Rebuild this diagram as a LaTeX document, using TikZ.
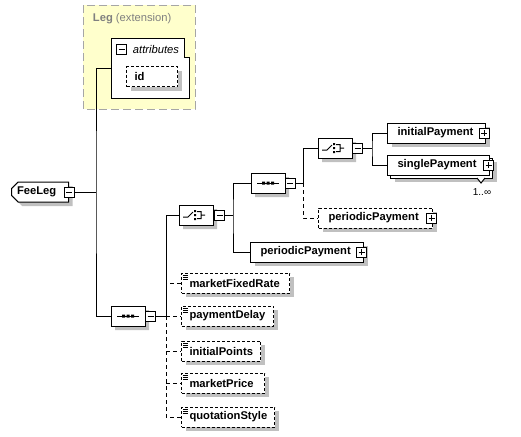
\documentclass[tikz,border=0pt]{standalone}
\usepackage{fontspec}
\setmainfont{Liberation Sans}
\usetikzlibrary{shapes.misc,shadows,calc}
\definecolor{legfill}{RGB}{255,255,204}
\definecolor{shadowgray}{RGB}{192,192,192}
\tikzstyle{boxfont}=[font=\bfseries\fontsize{8.4pt}{10pt}\selectfont]
\tikzstyle{shade}=[drop shadow={shadow xshift=3pt,shadow yshift=-3pt,fill=shadowgray,opacity=1}]
\tikzstyle{elembox}=[draw,fill=white,anchor=west,minimum height=15pt,inner xsep=7.5pt,inner ysep=0pt,align=left,boxfont]
\tikzstyle{elem}=[elembox,shade]
\tikzstyle{optional}=[dash pattern=on 2.25pt off 1.5pt]
\tikzstyle{simple}=[elem,optional,inner xsep=6pt]
\tikzstyle{compositor}=[draw,fill=white,chamfered rectangle,chamfered rectangle xsep=3.5pt,chamfered rectangle ysep=3.5pt,minimum width=25.5pt,minimum height=15pt,inner sep=0pt,shade]
\tikzstyle{collapsebox}=[draw,fill=white,minimum size=7.5pt,inner sep=0pt,path picture={\draw ([xshift=1.5pt]path picture bounding box.west) -- ([xshift=-1.5pt]path picture bounding box.east);}]
\tikzstyle{expandbox}=[draw,fill=white,minimum size=7.5pt,inner sep=0pt,path picture={\draw ([xshift=1.5pt]path picture bounding box.west) -- ([xshift=-1.5pt]path picture bounding box.east) ([yshift=1.5pt]path picture bounding box.south) -- ([yshift=-1.5pt]path picture bounding box.north);}]
\tikzstyle{link}=[line width=0.75pt]
\tikzstyle{optlink}=[link,dash pattern=on 3pt off 2.25pt]
\begin{document}
\begin{tikzpicture}[x=0.75pt,y=-0.75pt,line width=0.75pt]
\useasboundingbox (0,0) rectangle (521,436);
\draw[draw=gray!70,dash pattern=on 6pt off 3pt,fill=legfill] (83,5) rectangle (195,109);
\node[anchor=west,text=gray,font=\fontsize{8.4pt}{10pt}\selectfont] (legTitle) at (88,19) {\textbf{Leg} (extension)};
\draw[fill=white] (111,38) -- (184,38) -- (184,57) -- (189,57) -- (189,98) -- (111,98) -- cycle;
\coordinate (attrIn) at (111,68);
\node[collapsebox] (attrMinus) at (121.5,49) {};
\node[anchor=west,font=\itshape\fontsize{8.4pt}{10pt}\selectfont] (attrTitle) at (128,49) {attributes};
\node[simple,text width=26.25pt] (id) at (126,76.5) {id};

\node[draw,fill=white,chamfered rectangle,chamfered rectangle corners={north west,south west},chamfered rectangle xsep=2.5pt,chamfered rectangle ysep=2.5pt,minimum width=42.75pt,minimum height=15pt,inner sep=0pt,anchor=west,boxfont,shade] (feeLeg) at (11,192) {FeeLeg\hspace*{5pt}};
\node[collapsebox] (feeMinus) at (69,192) {};

\node[compositor] (seqLow) at (128,316) {};
\node[collapsebox] (seqLowMinus) at (150.5,316) {};
\node[compositor] (choiceMid) at (196,215) {};
\node[collapsebox] (choiceMidMinus) at (219.5,215) {};
\node[compositor] (seqUp) at (268,183) {};
\node[collapsebox] (seqUpMinus) at (290,183) {};
\node[compositor] (choiceUp) at (335,148) {};
\node[collapsebox] (choiceUpMinus) at (357.5,148) {};

\foreach \c in {seqLow,seqUp} {
  \draw[shift={(\c.center)}] (-11,0) -- (11,0);
  \fill[shift={(\c.center)}] (-6,-1.5) rectangle (-3,1.5) (-1.5,-1.5) rectangle (1.5,1.5) (3,-1.5) rectangle (6,1.5);
}
\foreach \c in {choiceMid,choiceUp} {
  \draw[shift={(\c.center)}] (-13,2) -- (-8,2) -- (-3,-3) (1,-3.5) -- (5,-3.5) -- (5,3.5) -- (1,3.5) (5,0) -- (9,0);
  \fill[shift={(\c.center)}] (-2,-5) rectangle (0,-3) (-2,-1) rectangle (0,1) (-2,3) rectangle (0,5);
}

\node[elem,text width=58.5pt] (initPay) at (387,133) {initialPayment};
\node[expandbox] (initPayPlus) at (484,133) {};
\node[elem,text width=61.5pt] (singleBack) at (390,168) {};
\draw[fill=white] (477,178) -- (481,183) -- (485,178);
\node[elembox,text width=61.5pt] (singlePay) at (387,165) {singlePayment};
\node[expandbox] (singlePayPlus) at (488.5,165) {};
\node[font=\fontsize{7.5pt}{9pt}\selectfont] (singleCard) at (482,192) {1..∞};
\node[elem,optional,text width=70.5pt] (perPayOpt) at (318,218) {periodicPayment};
\node[expandbox] (perPayOptPlus) at (431.5,218) {};
\node[elem,text width=69.75pt] (perPay) at (250,252) {periodicPayment};
\node[expandbox] (perPayPlus) at (361.5,252) {};

\node[simple,text width=69pt] (mktFixed) at (181,283) {marketFixedRate};
\node[simple,text width=57pt] (payDelay) at (181,316) {paymentDelay};
\node[simple,text width=47.25pt] (initPts) at (181,351) {initialPoints};
\node[simple,text width=50.25pt] (mktPrice) at (181,383) {marketPrice};
\node[simple,text width=57.75pt] (quoteStyle) at (181,417) {quotationStyle};
\foreach \e in {mktFixed,payDelay,initPts,mktPrice,quoteStyle}
  \draw[shift={(\e.north west)}] (2,2.5) -- (7,2.5) (2,4.5) -- (7,4.5) (2,6.5) -- (7,6.5);

\coordinate (jFee) at (96,192);
\coordinate (jSeqLow) at (166,316);
\coordinate (jChoiceMid) at (233,215);
\coordinate (jSeqUp) at (303,183);
\coordinate (jChoiceUp) at (372,148);

\draw[link] (feeMinus.east) -- (jFee);
\draw[link] (attrIn) -| (jFee) |- (seqLow.west);
\draw[link] (seqLowMinus.east) -- (jSeqLow);
\draw[link] (choiceMid.west) -| (jSeqLow);
\draw[optlink] (mktFixed.west) -- (mktFixed.west -| jSeqLow);
\draw[optlink] (jSeqLow) -- (payDelay.west);
\draw[optlink] (jSeqLow) |- (quoteStyle.west);
\draw[optlink] (initPts.west -| jSeqLow) -- (initPts.west);
\draw[optlink] (mktPrice.west -| jSeqLow) -- (mktPrice.west);
\draw[link] (choiceMidMinus.east) -- (jChoiceMid);
\draw[link] (seqUp.west) -| (jChoiceMid) |- (perPay.west);
\draw[link] (seqUpMinus.east) -- (jSeqUp);
\draw[link] (choiceUp.west) -| (jSeqUp);
\draw[optlink] (jSeqUp) |- (perPayOpt.west);
\draw[link] (choiceUpMinus.east) -- (jChoiceUp);
\draw[link] (initPay.west) -| (jChoiceUp) |- (singlePay.west);
\end{tikzpicture}
\end{document}
